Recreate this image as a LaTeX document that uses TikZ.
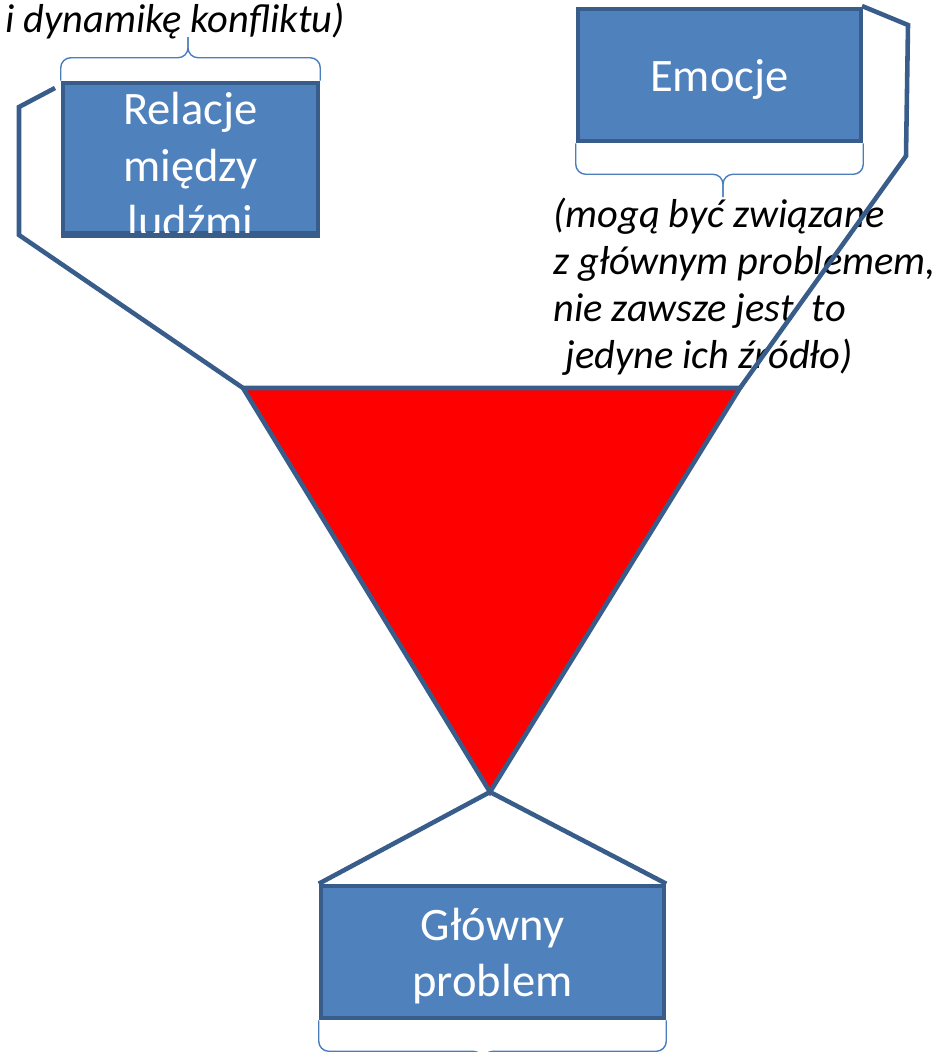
\documentclass[tikz,border=0pt]{standalone}
\usepackage{fontspec}
\setmainfont{Carlito}
\definecolor{boxblue}{HTML}{4F81BD}
\definecolor{lineblue}{HTML}{385D8A}
\definecolor{braceblue}{HTML}{4A7EBB}

\begin{document}
\begin{tikzpicture}
            [x=0.02cm, y=-0.02cm,
             box/.style={shape=rectangle, draw=lineblue, fill=boxblue, line width=2.6pt, inner sep=0pt},
             boxtext/.style={text=white, align=center, inner sep=0pt, font=\fontsize{26.5}{32}\selectfont},
             note/.style={align=left, inner sep=0pt, font=\itshape\fontsize{23}{26.7}\selectfont},
             edge/.style={draw=lineblue, line width=2.6pt},
             bracket/.style={draw=braceblue, line width=0.8pt, rounded corners=0.2cm}]
            \useasboundingbox (0, 0) rectangle (936, 1052);

            \node[box, minimum width=5.1cm, minimum height=3cm] (rel) at (190.5, 158) {};
            \node[box, minimum width=5.66cm, minimum height=2.64cm] (emo) at (719.5, 75) {};
            \node[box, minimum width=6.86cm, minimum height=2.64cm] (glo) at (492.5, 952) {};

            \node[boxtext] (reltext) at (190.5, 165) {Relacje\\między\\ludźmi};
            \draw[edge] (rel.south west) -- (rel.south east);
            \node[boxtext] (emotext) at (719.5, 79) {Emocje};
            \node[boxtext] (glotext) at (492.5, 956) {Główny\\problem};

            \node[note, anchor=base west] (relnote) at (5, 32) {i dynamikę konfliktu)};
            \node[note, anchor=north west] (emonote) at (553, 198)
                {(mogą być związane\\z głównym problemem,\\nie zawsze jest\ \ to\\\hspace*{0.3em}jedyne ich źródło)};

            \draw[bracket] (rel.north west) -- ++(0, -23) -| (188, 37);
            \draw[bracket] (rel.north east) -- ++(0, -23) -| (188, 37);
            \draw[bracket] (emo.south west) -- ++(0, 31) -| (723, 197);
            \draw[bracket] (emo.south east) -- ++(0, 31) -| (723, 197);
            \draw[bracket] (glo.south west) -- ++(0, 31) -| (483, 1062);
            \draw[bracket] (glo.south east) -- ++(0, 31) -| (483, 1062);

            \coordinate (tl) at (243, 388);
            \coordinate (tr) at (740, 388);
            \coordinate (tb) at (490, 792);
            \coordinate (l1) at (55, 88);
            \coordinate (l2) at (19, 107);
            \coordinate (l3) at (19, 235);
            \coordinate (r1) at (862, 6);
            \coordinate (r2) at (908, 25);
            \coordinate (r3) at (906, 156);

            \draw[edge, fill=red] (tl) -- (tr) -- (tb) -- cycle;
            \draw[edge] (l1) -- (l2) -- (l3) -- (tl);
            \draw[edge] (r1) -- (r2) -- (r3) -- (tr);
            \draw[edge] (tb) -- (glo.north west);
            \draw[edge] (tb) -- (glo.north east);
        \end{tikzpicture}
\end{document}
